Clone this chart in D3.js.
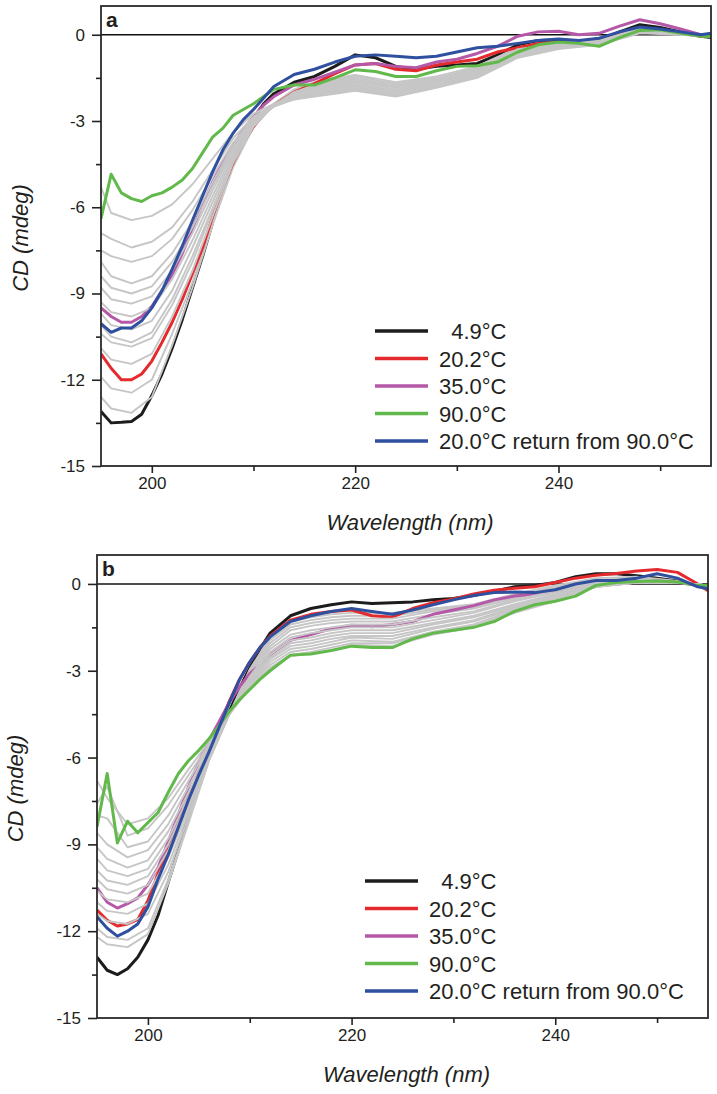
<!DOCTYPE html>
<html><head><meta charset="utf-8">
<script src="https://cdn.jsdelivr.net/npm/d3@7"></script>
<style>
body{margin:0;background:#fff;}
svg text{font-family:"Liberation Sans",Arial,Helvetica,sans-serif;fill:#231f20;}
</style></head>
<body><svg id="c" width="717" height="1094"></svg>
<script>
// wavelength grids (nm)
const wl = [195,196,197,198,199,200,201,202,203,204,205,206,207,208,209,210,211,212,214,216,218,220,222,224,226,228,230,232,234,236,238,240,242,244,246,248,250,252,254,255];
const wlGray = [195,196,198,200,202,204,206,208,210,212,214,216,218,220,224,228,232,236,240,244,248,252,255];

const seriesLabels = ["  4.9°C","20.2°C","35.0°C","90.0°C","20.0°C return from 90.0°C"];
const yMajor = [0,-3,-6,-9,-12,-15];
const yMinor = [-1.5,-4.5,-7.5,-10.5,-13.5];
const xMajor = [200,220,240];
const xMinor = [210,230,250];

// ---- panel a ----
const aBlack = [-13.1,-13.5,-13.48,-13.45,-13.2,-12.55,-11.8,-10.9,-9.9,-8.8,-7.7,-6.5,-5.4,-4.4,-3.55,-2.9,-2.4,-2.05,-1.65,-1.45,-1.1,-0.7,-0.8,-1.1,-1.2,-1.1,-1.05,-1.0,-0.7,-0.35,-0.2,-0.18,-0.25,-0.2,0.1,0.35,0.25,0.1,-0.05,-0.1];
const aRed = [-11.1,-11.6,-12.0,-12.0,-11.8,-11.35,-10.7,-10.0,-9.2,-8.3,-7.4,-6.3,-5.3,-4.45,-3.75,-3.2,-2.75,-2.45,-2.0,-1.7,-1.35,-1.05,-1.0,-1.2,-1.25,-1.05,-0.95,-0.85,-0.6,-0.45,-0.3,-0.25,-0.3,-0.2,0.0,0.15,0.15,0.05,-0.05,-0.05];
const aPurple = [-9.5,-9.8,-10.0,-10.0,-9.8,-9.45,-8.9,-8.35,-7.6,-6.75,-5.9,-5.1,-4.45,-3.85,-3.3,-2.85,-2.45,-2.15,-1.75,-1.55,-1.3,-1.05,-1.0,-1.1,-1.15,-0.95,-0.85,-0.65,-0.4,-0.05,0.1,0.12,0.0,0.05,0.3,0.52,0.38,0.2,0.0,-0.05];
const aGreen = [-6.4,-4.85,-5.5,-5.7,-5.8,-5.6,-5.5,-5.3,-5.05,-4.65,-4.1,-3.55,-3.25,-2.8,-2.6,-2.4,-2.15,-1.9,-1.75,-1.75,-1.5,-1.22,-1.28,-1.45,-1.45,-1.25,-1.1,-1.08,-0.95,-0.6,-0.35,-0.25,-0.3,-0.4,-0.1,0.15,0.17,0.05,-0.05,-0.06];
const aBlue = [-10.05,-10.35,-10.2,-10.2,-9.95,-9.5,-8.9,-8.15,-7.35,-6.45,-5.6,-4.75,-4.0,-3.42,-2.95,-2.6,-2.2,-1.8,-1.38,-1.2,-0.95,-0.75,-0.7,-0.75,-0.8,-0.75,-0.6,-0.45,-0.4,-0.3,-0.2,-0.15,-0.2,-0.12,0.1,0.27,0.2,0.1,0.0,0.05];
const aGray = [
 [-12.6,-13.0,-13.15,-12.6,-10.8,-8.8,-6.6,-4.6,-3.2,-2.4,-1.9,-1.65,-1.5,-1.4,-1.65,-1.45,-1.1,-0.45,-0.25,-0.2,0.2,0.05,-0.05],
 [-11.9,-12.3,-12.45,-12.0,-10.4,-8.6,-6.5,-4.55,-3.2,-2.45,-1.95,-1.7,-1.55,-1.45,-1.7,-1.5,-1.15,-0.5,-0.3,-0.2,0.2,0.05,-0.05],
 [-10.9,-11.3,-11.45,-11.1,-9.8,-8.2,-6.3,-4.45,-3.2,-2.45,-2.0,-1.75,-1.6,-1.5,-1.75,-1.55,-1.2,-0.5,-0.3,-0.2,0.2,0.05,-0.05],
 [-10.4,-10.7,-10.85,-10.55,-9.4,-7.9,-6.1,-4.35,-3.15,-2.45,-2.0,-1.8,-1.65,-1.55,-1.8,-1.6,-1.2,-0.55,-0.3,-0.2,0.2,0.05,-0.05],
 [-10.1,-10.5,-10.7,-10.35,-9.2,-7.7,-6.0,-4.3,-3.15,-2.45,-2.05,-1.8,-1.7,-1.6,-1.85,-1.6,-1.25,-0.55,-0.3,-0.25,0.2,0.05,-0.05],
 [-9.7,-10.1,-10.25,-9.95,-8.9,-7.4,-5.8,-4.2,-3.1,-2.45,-2.05,-1.85,-1.75,-1.65,-1.9,-1.65,-1.25,-0.55,-0.35,-0.25,0.2,0.05,-0.05],
 [-9.3,-9.65,-9.8,-9.5,-8.5,-7.15,-5.6,-4.1,-3.05,-2.45,-2.05,-1.9,-1.8,-1.7,-1.95,-1.65,-1.3,-0.6,-0.35,-0.25,0.2,0.05,-0.05],
 [-8.8,-9.2,-9.35,-9.1,-8.2,-6.9,-5.4,-4.0,-3.0,-2.45,-2.1,-1.95,-1.85,-1.75,-2.0,-1.7,-1.3,-0.6,-0.4,-0.25,0.2,0.05,-0.05],
 [-8.4,-8.8,-9.0,-8.75,-7.9,-6.7,-5.25,-3.95,-3.0,-2.5,-2.15,-2.0,-1.9,-1.8,-2.05,-1.75,-1.35,-0.65,-0.4,-0.3,0.15,0.05,-0.05],
 [-7.9,-8.4,-8.65,-8.4,-7.6,-6.5,-5.1,-3.85,-2.95,-2.5,-2.2,-2.05,-1.95,-1.85,-2.1,-1.8,-1.4,-0.7,-0.45,-0.3,0.15,0.05,-0.05],
 [-7.5,-7.7,-7.9,-7.7,-7.1,-6.1,-4.9,-3.75,-2.9,-2.5,-2.25,-2.1,-2.0,-1.9,-2.1,-1.8,-1.45,-0.75,-0.45,-0.3,0.1,0.05,-0.05],
 [-6.9,-7.1,-7.4,-7.2,-6.7,-5.8,-4.7,-3.6,-2.85,-2.45,-2.25,-2.15,-2.05,-1.95,-2.15,-1.85,-1.5,-0.8,-0.5,-0.35,0.1,0.0,-0.05],
 [-5.3,-6.2,-6.45,-6.3,-5.9,-5.2,-4.3,-3.4,-2.75,-2.4,-2.2,-2.1,-2.0,-1.9,-2.1,-1.8,-1.45,-0.75,-0.45,-0.35,0.05,0.0,-0.05]
];

// ---- panel b ----
const bBlack = [-12.9,-13.35,-13.5,-13.3,-12.9,-12.3,-11.45,-10.3,-9.2,-8.0,-6.9,-5.9,-5.1,-4.4,-3.6,-2.9,-2.25,-1.7,-1.1,-0.85,-0.72,-0.62,-0.68,-0.65,-0.62,-0.55,-0.5,-0.4,-0.25,-0.1,-0.05,0.05,0.25,0.35,0.35,0.28,0.2,0.1,-0.05,-0.15];
const bRed = [-11.27,-11.62,-11.82,-11.75,-11.6,-10.95,-10.0,-9.15,-8.25,-7.35,-6.5,-5.7,-4.9,-4.05,-3.3,-2.7,-2.2,-1.8,-1.25,-1.05,-0.95,-0.9,-1.1,-1.15,-0.85,-0.65,-0.52,-0.35,-0.22,-0.15,-0.1,0.05,0.2,0.3,0.36,0.45,0.5,0.4,0.0,-0.24];
const bPurple = [-10.5,-11.0,-11.2,-11.05,-10.85,-10.4,-9.8,-8.9,-7.95,-7.0,-6.15,-5.4,-4.75,-4.1,-3.55,-3.1,-2.8,-2.45,-1.95,-1.75,-1.55,-1.43,-1.48,-1.4,-1.3,-1.05,-0.9,-0.75,-0.55,-0.42,-0.35,-0.25,-0.15,-0.05,0.0,0.05,0.1,0.05,-0.05,-0.1];
const bGreen = [-8.4,-6.55,-8.95,-8.2,-8.6,-8.25,-7.9,-7.2,-6.55,-6.1,-5.75,-5.35,-4.9,-4.4,-4.0,-3.65,-3.3,-3.0,-2.46,-2.42,-2.3,-2.15,-2.2,-2.2,-1.9,-1.7,-1.6,-1.5,-1.3,-0.95,-0.72,-0.6,-0.42,-0.05,0.05,0.08,0.1,0.07,-0.05,-0.05];
const bBlue = [-11.5,-11.9,-12.17,-12.0,-11.75,-11.16,-10.2,-9.35,-8.4,-7.45,-6.6,-5.8,-4.95,-4.1,-3.3,-2.7,-2.2,-1.83,-1.3,-1.1,-0.95,-0.85,-0.95,-1.05,-0.9,-0.72,-0.55,-0.4,-0.3,-0.28,-0.3,-0.2,0.0,0.12,0.12,0.2,0.35,0.2,-0.1,-0.17];
const bGray = [
 [-12.2,-12.45,-12.55,-12.1,-10.35,-8.25,-6.1,-4.5,-2.95,-1.85,-1.3,-1.15,-1.05,-1.0,-1.0,-0.85,-0.7,-0.35,-0.05,0.2,0.25,0.1,-0.1],
 [-11.9,-12.2,-12.3,-11.9,-10.2,-8.2,-6.1,-4.5,-3.0,-1.95,-1.4,-1.25,-1.15,-1.1,-1.1,-0.9,-0.75,-0.4,-0.1,0.15,0.2,0.05,-0.1],
 [-11.4,-11.65,-11.75,-11.4,-9.95,-8.05,-6.1,-4.5,-3.05,-2.05,-1.5,-1.35,-1.25,-1.2,-1.2,-0.95,-0.8,-0.45,-0.15,0.1,0.15,0.05,-0.1],
 [-11.0,-11.3,-11.4,-11.05,-9.7,-7.9,-6.05,-4.5,-3.1,-2.15,-1.6,-1.45,-1.35,-1.3,-1.3,-1.05,-0.85,-0.5,-0.2,0.05,0.15,0.05,-0.05],
 [-10.6,-10.9,-11.0,-10.7,-9.45,-7.75,-6.0,-4.5,-3.2,-2.25,-1.75,-1.6,-1.5,-1.4,-1.4,-1.15,-0.95,-0.55,-0.25,0.05,0.1,0.05,-0.05],
 [-10.2,-10.55,-10.7,-10.4,-9.2,-7.6,-5.95,-4.5,-3.25,-2.35,-1.85,-1.7,-1.6,-1.5,-1.5,-1.25,-1.0,-0.6,-0.3,0.0,0.1,0.05,-0.05],
 [-9.9,-10.25,-10.4,-10.1,-9.0,-7.5,-5.9,-4.5,-3.3,-2.45,-1.95,-1.85,-1.7,-1.6,-1.6,-1.35,-1.1,-0.7,-0.35,0.0,0.1,0.05,-0.05],
 [-9.5,-9.9,-10.1,-9.85,-8.8,-7.35,-5.85,-4.5,-3.35,-2.55,-2.05,-1.95,-1.8,-1.7,-1.7,-1.4,-1.15,-0.75,-0.4,-0.05,0.05,0.05,-0.05],
 [-9.1,-9.5,-9.8,-9.55,-8.55,-7.2,-5.8,-4.5,-3.4,-2.6,-2.15,-2.05,-1.9,-1.8,-1.8,-1.5,-1.25,-0.8,-0.45,-0.05,0.05,0.05,-0.05],
 [-8.6,-9.0,-9.45,-9.2,-8.3,-7.0,-5.7,-4.5,-3.45,-2.7,-2.25,-2.15,-2.0,-1.85,-1.9,-1.55,-1.3,-0.85,-0.5,-0.1,0.05,0.05,-0.05],
 [-8.0,-8.1,-9.1,-8.9,-8.0,-6.8,-5.6,-4.5,-3.5,-2.8,-2.35,-2.25,-2.1,-1.95,-2.0,-1.65,-1.4,-0.9,-0.5,-0.1,0.05,0.05,-0.05],
 [-7.6,-7.0,-8.7,-8.45,-7.65,-6.6,-5.55,-4.5,-3.55,-2.9,-2.45,-2.35,-2.2,-2.05,-2.05,-1.7,-1.45,-0.95,-0.55,-0.1,0.05,0.05,-0.05],
 [-6.8,-7.4,-8.3,-8.1,-7.4,-6.4,-5.45,-4.5,-3.6,-2.95,-2.5,-2.4,-2.3,-2.1,-2.15,-1.75,-1.5,-1.0,-0.6,-0.1,0.05,0.05,-0.05]
];

const colors = {black:"#1c1c1c", red:"#e52a2d", purple:"#b558a8", green:"#62b94b", blue:"#2f4f9f", gray:"#c6c6c6"};

const svg = d3.select("#c");

function panel(cfg, idx){
  const g = svg.append("g");
  const x = d3.scaleLinear().domain([195,255]).range([cfg.left, cfg.right]);
  const y = d3.scaleLinear().domain([-15,1]).range([cfg.bottom, cfg.top]);
  const clipId = "clip"+idx;
  g.append("clipPath").attr("id",clipId).append("rect")
    .attr("x",cfg.left).attr("y",cfg.top).attr("width",cfg.right-cfg.left).attr("height",cfg.bottom-cfg.top);

  const lineC = d3.line().x((d,i)=>x(wl[i])).y(d=>y(d));
  const lineG = d3.line().x((d,i)=>x(wlGray[i])).y(d=>y(d));
  const plot = g.append("g").attr("clip-path","url(#"+clipId+")");

  // zero line
  plot.append("line").attr("x1",x(195)).attr("x2",x(255)).attr("y1",y(0)).attr("y2",y(0))
    .attr("stroke","#111").attr("stroke-width",1.6);

  const drawC = (vals,col)=>plot.append("path").datum(vals).attr("d",lineC)
    .attr("fill","none").attr("stroke",col).attr("stroke-width",3).attr("stroke-linejoin","round");
  const drawG = (arr)=>arr.forEach(v=>plot.append("path").datum(v).attr("d",lineG)
    .attr("fill","none").attr("stroke",colors.gray).attr("stroke-width",1.9).attr("stroke-linejoin","round"));

  drawC(cfg.black, colors.black);
  drawG(cfg.gray.slice(0,2));
  drawC(cfg.red, colors.red);
  drawG(cfg.gray.slice(2,4));
  drawC(cfg.purple, colors.purple);
  drawG(cfg.gray.slice(4));
  drawC(cfg.green, colors.green);
  drawC(cfg.blue, colors.blue);

  // frame
  g.append("rect").attr("x",cfg.left).attr("y",cfg.top).attr("width",cfg.right-cfg.left).attr("height",cfg.bottom-cfg.top)
    .attr("fill","none").attr("stroke","#2a2a2a").attr("stroke-width",1.8);

  // axes
  const ax = (sel)=>{sel.select(".domain").remove(); sel.selectAll("line").attr("stroke","#222").attr("stroke-width",1.6);
    sel.selectAll("text").style("font-size","17px").attr("fill","#231f20");};
  g.append("g").attr("transform","translate("+cfg.left+",0)")
    .call(d3.axisLeft(y).tickValues(yMajor).tickSize(9).tickPadding(7).tickFormat(d=>String(d))).call(ax);
  g.append("g").attr("transform","translate("+cfg.left+",0)")
    .call(d3.axisLeft(y).tickValues(yMinor).tickSize(5).tickFormat("")).call(ax);
  g.append("g").attr("transform","translate(0,"+cfg.bottom+")")
    .call(d3.axisBottom(x).tickValues(xMajor).tickSize(7).tickPadding(4).tickFormat(d=>String(d))).call(ax);
  g.append("g").attr("transform","translate(0,"+cfg.bottom+")")
    .call(d3.axisBottom(x).tickValues(xMinor).tickSize(5).tickFormat("")).call(ax);

  // panel letter
  g.append("text").attr("x",cfg.left+5).attr("y",cfg.top+21).text(cfg.letter)
    .style("font-size","21px").style("font-weight","bold");

  // axis titles
  g.append("text").attr("x",(cfg.left+cfg.right)/2+4).attr("y",cfg.bottom+64).attr("text-anchor","middle")
    .style("font-size","22px").style("font-style","italic").text("Wavelength (nm)");
  g.append("text").attr("transform","translate("+cfg.ylabX+","+((cfg.top+cfg.bottom)/2+2)+") rotate(-90)")
    .attr("text-anchor","middle").style("font-size","22px").style("font-style","italic").text("CD (mdeg)");

  // legend
  const legCols = [colors.black, colors.red, colors.purple, colors.green, colors.blue];
  const leg = g.append("g");
  seriesLabels.forEach((lab,i)=>{
    const yy = cfg.legY + i*cfg.legStep;
    leg.append("line").attr("x1",cfg.legX).attr("x2",cfg.legX+53).attr("y1",yy).attr("y2",yy)
      .attr("stroke",legCols[i]).attr("stroke-width",3.5);
    leg.append("text").attr("x",cfg.legX+64).attr("y",yy+8).style("font-size","22px")
      .style("white-space","pre").text(lab);
  });
}

panel({left:101,right:711,top:6,bottom:466,letter:"a",ylabX:28,legX:375,legY:331,legStep:27.5,
  black:aBlack,red:aRed,purple:aPurple,green:aGreen,blue:aBlue,gray:aGray},0);
panel({left:97,right:708,top:555,bottom:1018,letter:"b",ylabX:23,legX:365,legY:881,legStep:27.5,
  black:bBlack,red:bRed,purple:bPurple,green:bGreen,blue:bBlue,gray:bGray},1);
</script></body></html>
